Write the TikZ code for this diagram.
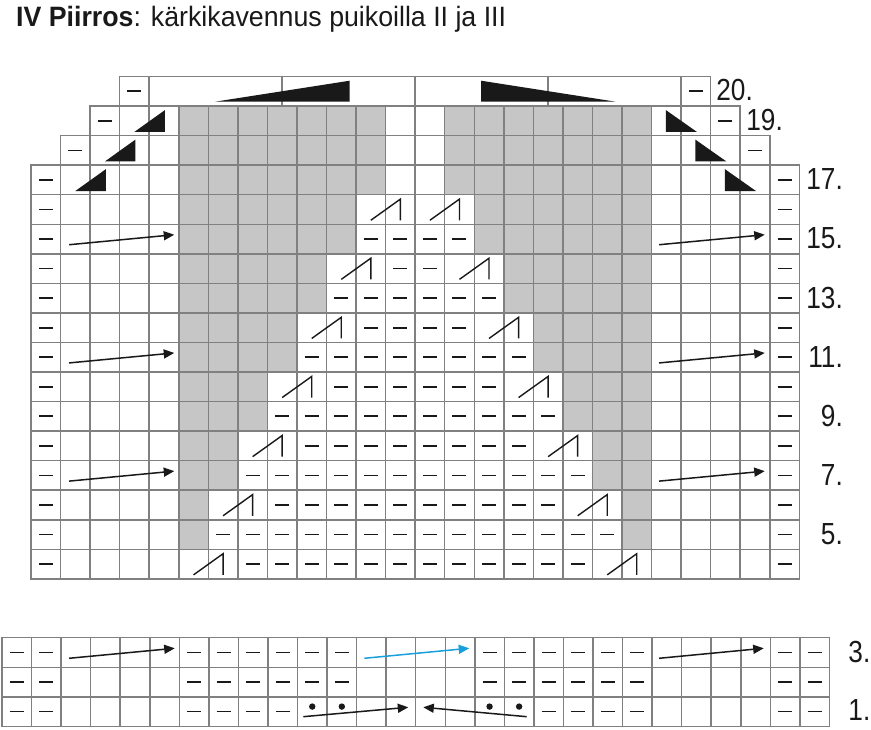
\documentclass[tikz,border=0pt]{standalone}
\usepackage{fontspec}
\setmainfont{Liberation Sans}[FakeStretch=0.955]
\newfontfamily\labfont{Liberation Sans}[FakeStretch=0.86]
\usetikzlibrary{arrows.meta}
\definecolor{gridc}{RGB}{128,128,128}
\definecolor{grayc}{RGB}{198,198,198}
\definecolor{bluec}{RGB}{25,160,220}
\definecolor{inkc}{RGB}{25,25,25}
\newcommand\W{29.55}
\newcommand\MX{31}
\newcommand\MY{76.5}
\newcommand\BX{2}
\newcommand\BY{637.7}
% main chart: left x of column, top y of row
\newcommand\mx[1]{\MX+(#1)*\W}
\newcommand\my[1]{\MY+(20-(#1))*\W}
% bottom chart
\newcommand\bx[1]{\BX+(#1)*\W}
\newcommand\by[1]{\BY+(3-(#1))*\W}
\newcommand\mdash[2]{\draw[dsh] ({\mx{#1+0.5}-7},{\my{#2}+0.5*\W}) -- ++(14,0);}
\newcommand\bdash[2]{\draw[dsh] ({\bx{#1+0.5}-7},{\by{#2}+0.5*\W}) -- ++(14,0);}
\newcommand\decsym[2]{\draw[sym] ({\mx{#1+0.5}},{\my{#2}+\W-4}) -- ({\mx{#1+1.5}},{\my{#2}+4.4}) -- ({\mx{#1+1.5}},{\my{#2}+\W-4});}
\newcommand\ltri[2]{\fill[inkc] ({\mx{#1+0.5}},{\my{#2}+\W-3.7}) -- ({\mx{#1+1.5}+1},{\my{#2}+\W-3.7}) -- ({\mx{#1+1.5}+1},{\my{#2}+4}) -- cycle;}
\newcommand\rtri[2]{\fill[inkc] ({\mx{#1+0.5}-0.5},{\my{#2}+4}) -- ({\mx{#1+0.5}-0.5},{\my{#2}+\W-3.7}) -- ({\mx{#1+1.5}+1},{\my{#2}+\W-3.7}) -- cycle;}
\begin{document}
\begin{tikzpicture}[x=1pt,y=-1pt,
  cellbox/.style={draw=gridc,line width=1.5pt},
  dsh/.style={draw=inkc,line width=1.7pt},
  sym/.style={draw=inkc,line width=1.4pt,line join=miter},
  arr/.style={draw=inkc,line width=1.5pt,-{Triangle[length=10.5pt,width=9pt]}},
  barr/.style={draw=bluec,line width=1.5pt,-{Triangle[length=10.5pt,width=9pt]}},
  lab/.style={inner sep=0pt,font=\labfont\fontsize{30.5}{31}\selectfont,text=inkc,anchor=east}]
\useasboundingbox (0,0) rectangle (871,729);
\fill[white] (0,0) rectangle (871,729);
% title
\node[inner sep=0pt,anchor=base west,text=inkc,font=\fontsize{28}{30}\selectfont] (title) at (16,26) {\textbf{IV Piirros}: kärkikavennus puikoilla II ja III};
% ---------- main chart: gray fills ----------
\foreach \r in {17,18,19}{
  \fill[grayc] ({\mx{5}},{\my{\r}}) rectangle ({\mx{12}},{\my{\r-1}});
  \fill[grayc] ({\mx{14}},{\my{\r}}) rectangle ({\mx{21}},{\my{\r-1}});
}
\foreach \r in {5,...,16}{
  \pgfmathtruncatemacro\g{floor((\r+5)/2)}
  \fill[grayc] ({\mx{5}},{\my{\r}}) rectangle ({\mx{\g+1}},{\my{\r-1}});
  \fill[grayc] ({\mx{25-\g}},{\my{\r}}) rectangle ({\mx{21}},{\my{\r-1}});
}
% ---------- main chart: grid ----------
\foreach \r in {4,...,17}{
  \foreach \c in {0,...,25}{
    \draw[cellbox] ({\mx{\c}},{\my{\r}}) rectangle ({\mx{\c+1}},{\my{\r-1}});
  }
}
\foreach \c in {1,...,24}{\draw[cellbox] ({\mx{\c}},{\my{18}}) rectangle ({\mx{\c+1}},{\my{17}});}
\foreach \c in {2,...,23}{\draw[cellbox] ({\mx{\c}},{\my{19}}) rectangle ({\mx{\c+1}},{\my{18}});}
\foreach \a/\b in {3/4,4/8.5,8.5/13,13/17.5,17.5/22,22/23}{
  \draw[cellbox] ({\mx{\a}},{\my{20}}) rectangle ({\mx{\b}},{\my{19}});
}
% ---------- main chart: dashes ----------
\foreach \r in {4,...,17}{\mdash{0}{\r}\mdash{25}{\r}}
\mdash{1}{18}\mdash{24}{18}
\mdash{2}{19}\mdash{23}{19}
\mdash{3}{20}\mdash{22}{20}
\foreach \r in {5,7,...,15}{
  \pgfmathtruncatemacro\ga{(\r+5)/2+1}
  \pgfmathtruncatemacro\gb{24-(\r+5)/2}
  \foreach \c in {\ga,...,\gb}{\mdash{\c}{\r}}
}
\foreach \r in {4,6,...,14}{
  \pgfmathtruncatemacro\da{\r/2+5}
  \pgfmathtruncatemacro\db{20-\r/2}
  \foreach \c in {\da,...,\db}{\mdash{\c}{\r}}
}
% ---------- main chart: decrease symbols ----------
\foreach \r in {4,6,...,16}{
  \pgfmathtruncatemacro\L{\r/2+3}
  \pgfmathtruncatemacro\R{21-\r/2}
  \decsym{\L}{\r}
  \decsym{\R}{\r}
}
% ---------- black triangles ----------
\ltri{1}{17}\ltri{2}{18}\ltri{3}{19}
\rtri{23}{17}\rtri{22}{18}\rtri{21}{19}
\fill[inkc] (215,101.7) -- (349.7,101.7) -- (349.7,80.7) -- cycle;
\fill[inkc] (481,80.7) -- (481,101.7) -- (615.7,101.7) -- cycle;
% ---------- main chart arrows ----------
\foreach \r in {15,11,7}{
  \draw[arr] ({\mx{1}+8.5},{\my{\r}+0.5*\W+5.7}) -- ({\mx{5}-4.5},{\my{\r}+0.5*\W-4.3});
  \draw[arr] ({\mx{21}+7.5},{\my{\r}+0.5*\W+5.7}) -- ({\mx{25}-5},{\my{\r}+0.5*\W-4.3});
}
% ---------- main chart labels ----------
\node[lab] (l20) at (753,{\my{20}+0.5*\W-1.5}) {20.};
\node[lab] (l19) at (783,{\my{19}+0.5*\W-1}) {19.};
\foreach \r in {17,15,13,11,9,7,5}{
  \node[lab] (l\r) at (843,{\my{\r}+0.5*\W-0.5}) {\r.};
}
% ---------- bottom chart ----------
\foreach \r in {1,2,3}{
  \foreach \c in {0,...,27}{
    \draw[cellbox] ({\bx{\c}},{\by{\r}}) rectangle ({\bx{\c+1}},{\by{\r-1}});
  }
  \bdash{0}{\r}\bdash{1}{\r}\bdash{26}{\r}\bdash{27}{\r}
}
\foreach \r in {2,3}{
  \foreach \c in {6,...,11,16,17,...,21}{\bdash{\c}{\r}}
}
\foreach \c in {6,...,9,18,19,20,21}{\bdash{\c}{1}}
\foreach \c in {10,11,16,17}{\fill[inkc] ({\bx{\c+0.5}},{\by{1}+0.5*\W-5}) circle (3.2);}
% row 3 arrows
\draw[arr] ({\bx{2}+8},{\by{3}+0.5*\W+5.8}) -- ({\bx{6}-4.6},{\by{3}+0.5*\W-4.2});
\draw[barr] ({\bx{12}+7.8},{\by{3}+0.5*\W+5.8}) -- ({\bx{16}-5.6},{\by{3}+0.5*\W-4.2});
\draw[arr] ({\bx{22}+7},{\by{3}+0.5*\W+5.8}) -- ({\bx{26}-6.6},{\by{3}+0.5*\W-4.2});
% row 1 arrows
\draw[arr] ({\bx{10}+5.8},{\by{1}+0.5*\W+5.1}) -- ({\bx{14}-7.4},{\by{1}+0.5*\W-4.3});
\draw[arr] ({\bx{18}-7.2},{\by{1}+0.5*\W+5.1}) -- ({\bx{14}+7.6},{\by{1}+0.5*\W-4.3});
\node[lab] (l3) at (870.5,{\by{3}+0.5*\W-0.5}) {3.};
\node[lab] (l1) at (870.5,{\by{1}+0.5*\W-1.5}) {1.};
\end{tikzpicture}
\end{document}
